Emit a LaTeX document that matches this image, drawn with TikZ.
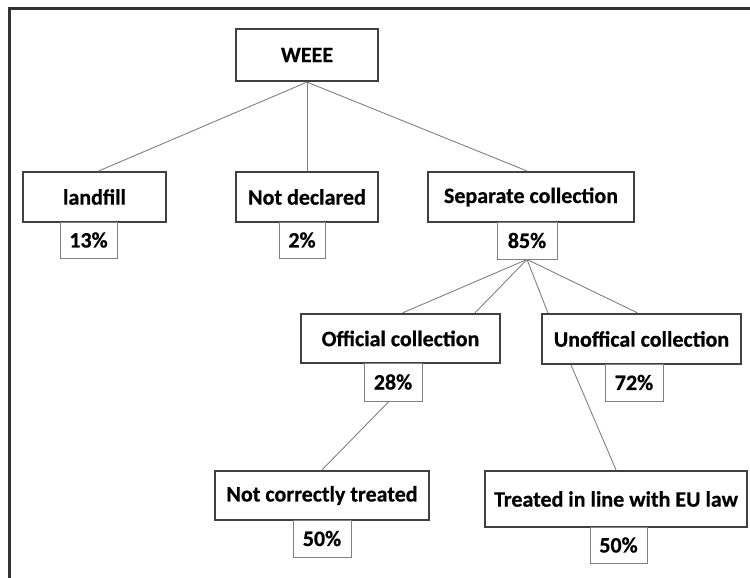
\documentclass[tikz,border=0pt]{standalone}
\usepackage{fontspec}
\setmainfont{Carlito}[BoldFeatures={FakeBold=0.6}]
\usetikzlibrary{calc}
\definecolor{boxline}{HTML}{404040}
\definecolor{thinline}{HTML}{808080}
\definecolor{frameline}{HTML}{333333}
\tikzset{
  catbox/.style={draw=boxline, line width=2.2pt, fill=white, inner sep=0pt, anchor=center,
    font=\fontsize{22}{26}\selectfont\bfseries},
  pctbox/.style={draw=thinline, line width=0.9pt, fill=white, inner sep=0pt, anchor=center,
    font=\fontsize{22}{26}\selectfont\bfseries},
  conn/.style={draw=thinline, line width=0.9pt},
}
\begin{document}
\begin{tikzpicture}[x=1pt,y=-1pt]
\useasboundingbox (0,0) rectangle (750,578);
% frame (only top and left edges visible)
\draw[frameline, line width=3pt] (9,578) -- (9,8.5) -- (750,8.5);

% category boxes
\node[catbox, minimum width=142pt, minimum height=52pt] (weee) at (307,55) {WEEE};
\node[catbox, minimum width=143pt, minimum height=50pt] (landfill) at (94.5,197) {landfill};
\node[catbox, minimum width=142pt, minimum height=50pt] (notdecl) at (307,197) {Not declared};
\node[catbox, minimum width=206pt, minimum height=50pt] (sep) at (531,197) {Separate collection};
\node[catbox, minimum width=199pt, minimum height=49pt] (off) at (400.5,338.5) {Official collection};
\node[catbox, minimum width=199pt, minimum height=50pt] (unoff) at (641.5,339) {Unoffical collection};
\node[catbox, minimum width=214pt, minimum height=49pt] (notcorr) at (322,495.5) {Not correctly treated};
\node[catbox, minimum width=262pt, minimum height=56pt] (treated) at (616,499) {Treated in line with EU law};

% percentage boxes
\node[pctbox, minimum width=57pt, minimum height=36pt] (p13) at (88.5,240) {13\%};
\node[pctbox, minimum width=46pt, minimum height=36pt] (p2) at (302,240) {2\%};
\node[pctbox, minimum width=60pt, minimum height=37pt] (p85) at (527,240.5) {85\%};
\node[pctbox, minimum width=58pt, minimum height=38pt] (p28) at (393,382) {28\%};
\node[pctbox, minimum width=58pt, minimum height=37pt] (p72) at (634,382.5) {72\%};
\node[pctbox, minimum width=58pt, minimum height=37pt] (p50a) at (322,538.5) {50\%};
\node[pctbox, minimum width=57pt, minimum height=36pt] (p50b) at (618.5,545) {50\%};

% connectors
\draw[conn] (weee.south) -- ($(landfill.north west)!0.53!(landfill.north east)$);
\draw[conn] (weee.south) -- (notdecl.north);
\draw[conn] (weee.south) -- ($(sep.north west)!0.48!(sep.north east)$);
\draw[conn] (p85.south) -- ($(off.north west)!0.51!(off.north east)$);
\draw[conn] (p85.south) -- ($(off.north west)!0.87!(off.north east)$);
\draw[conn] (p85.south) -- ($(unoff.north west)!0.035!(unoff.north east)$);
\draw[conn] (p85.south) -- ($(unoff.north west)!0.48!(unoff.north east)$);
\draw[conn] ($(p28.south west)!0.43!(p28.south east)$) -- (notcorr.north);
\draw[conn] ($(unoff.south west)!0.15!(unoff.south east)$) -- (treated.north);
\end{tikzpicture}
\end{document}
